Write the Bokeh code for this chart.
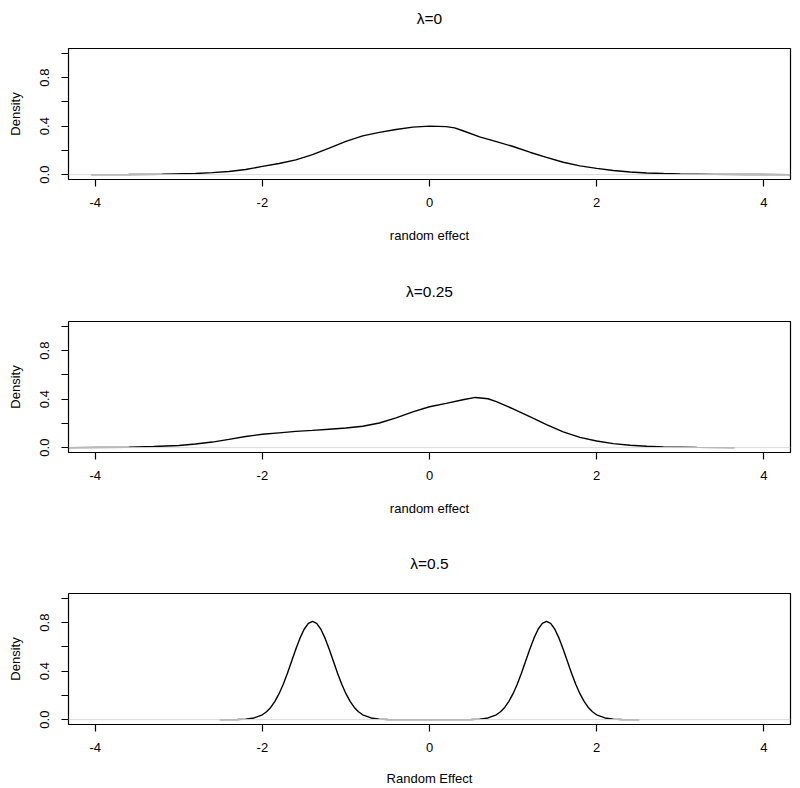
from bokeh.plotting import figure
from bokeh.layouts import column
from bokeh.models import Range1d, FixedTicker, Span, PrintfTickFormatter, LinearAxis
from bokeh.embed import file_html
from bokeh.resources import INLINE

# ---- data ----
titles = ["λ=0", "λ=0.25", "λ=0.5"]
xlabels = ["random effect", "random effect", "Random Effect"]
ylabel = "Density"

x_ticks = [-4, -2, 0, 2, 4]
y_major = [0.0, 0.4, 0.8]
y_minor = [0.2, 0.6, 1.0]

# lambda = 0
x_l0 = [-4.05, -3.6, -3.2, -2.8, -2.6, -2.4, -2.2, -2.0, -1.8, -1.6, -1.4, -1.2, -1.0,
        -0.8, -0.6, -0.4, -0.2, 0.0, 0.2, 0.3, 0.4, 0.6, 0.8, 1.0, 1.2, 1.4, 1.6, 1.8,
        2.0, 2.2, 2.4, 2.6, 2.8, 3.0, 3.4, 3.8, 4.4]
y_l0 = [0.0, 0.001, 0.003, 0.010, 0.017, 0.026, 0.042, 0.068, 0.092, 0.122, 0.165, 0.218, 0.275,
        0.320, 0.349, 0.372, 0.392, 0.400, 0.396, 0.386, 0.362, 0.312, 0.272, 0.232, 0.185, 0.142, 0.102, 0.072,
        0.052, 0.034, 0.022, 0.014, 0.009, 0.005, 0.002, 0.001, 0.0]

# lambda = 0.25
x_l25 = [-4.4, -3.6, -3.3, -3.0, -2.8, -2.6, -2.4, -2.2, -2.0, -1.8, -1.6, -1.4, -1.2, -1.0,
         -0.8, -0.6, -0.4, -0.2, 0.0, 0.2, 0.4, 0.55, 0.7, 0.8, 1.0, 1.2, 1.4, 1.6, 1.8,
         2.0, 2.2, 2.4, 2.6, 2.8, 3.2, 3.65]
y_l25 = [0.0, 0.003, 0.009, 0.018, 0.030, 0.046, 0.068, 0.092, 0.110, 0.122, 0.134, 0.142, 0.152, 0.162,
         0.176, 0.203, 0.245, 0.295, 0.337, 0.365, 0.395, 0.414, 0.403, 0.380, 0.320, 0.255, 0.190, 0.130, 0.085,
         0.055, 0.033, 0.020, 0.011, 0.006, 0.002, 0.0]

# lambda = 0.5
x_l50 = [-2.51, -2.4, -2.3, -2.2, -2.1, -2.0, -1.95, -1.9, -1.85, -1.8, -1.75, -1.7, -1.65, -1.6,
         -1.55, -1.5, -1.45, -1.4, -1.35, -1.3, -1.25, -1.2, -1.15, -1.1, -1.05, -1.0, -0.95,
         -0.9, -0.85, -0.8, -0.7, -0.6, -0.5, -0.4, 0.0,
         0.4, 0.5, 0.6, 0.7, 0.8, 0.85, 0.9, 0.95, 1.0, 1.05, 1.1, 1.15, 1.2, 1.25, 1.3, 1.35,
         1.4, 1.45, 1.5, 1.55, 1.6, 1.65, 1.7, 1.75, 1.8, 1.85, 1.9, 1.95, 2.0, 2.1, 2.2, 2.3, 2.4, 2.51]
y_l50 = [0.0, 0.0003, 0.001, 0.004, 0.014, 0.040, 0.065, 0.101, 0.150, 0.214, 0.292, 0.383, 0.481, 0.581,
         0.672, 0.745, 0.793, 0.810, 0.793, 0.745, 0.672, 0.581, 0.481, 0.383, 0.292, 0.214, 0.150,
         0.101, 0.065, 0.040, 0.014, 0.004, 0.001, 0.0003, 0.0,
         0.0003, 0.001, 0.004, 0.014, 0.040, 0.065, 0.101, 0.150, 0.214, 0.292, 0.383, 0.481, 0.581, 0.672, 0.745, 0.793,
         0.810, 0.793, 0.745, 0.672, 0.581, 0.481, 0.383, 0.292, 0.214, 0.150, 0.101, 0.065, 0.040, 0.014, 0.004, 0.001, 0.0003, 0.0]

series = [(x_l0, y_l0), (x_l25, y_l25), (x_l50, y_l50)]

FONT = "Liberation Sans"
# per-panel borders (top, bottom)
borders = [(48, 84), (58, 80), (61, 64)]
xlabel_standoff = [18, 18, 16]


def make_panel(i):
    top, bottom = borders[i]
    p = figure(frame_width=722, frame_height=131, title=None,
               min_border_left=68, min_border_right=10,
               min_border_top=top, min_border_bottom=bottom,
               x_range=Range1d(-4.32, 4.32), y_range=Range1d(-0.04, 1.04),
               output_backend="svg", toolbar_location=None,
               background_fill_color="white", border_fill_color="white")
    p.grid.visible = False
    p.outline_line_color = "black"
    p.outline_line_width = 1.2
    p.outline_line_alpha = 1.0

    xa = p.below[0]
    xa.ticker = FixedTicker(ticks=x_ticks)
    xa.formatter = PrintfTickFormatter(format="%d")
    xa.axis_line_color = None
    xa.major_tick_in = 0
    xa.major_tick_out = 7
    xa.major_tick_line_color = "black"
    xa.major_tick_line_width = 1.2
    xa.minor_tick_line_color = None
    xa.major_label_text_font = FONT
    xa.major_label_text_font_size = "13px"
    xa.major_label_text_color = "black"
    xa.major_label_standoff = 11
    xa.axis_label = xlabels[i]
    xa.axis_label_text_font = FONT
    xa.axis_label_text_font_size = "13px"
    xa.axis_label_text_font_style = "normal"
    xa.axis_label_text_color = "black"
    xa.axis_label_standoff = xlabel_standoff[i]

    ya = p.left[0]
    ya.ticker = FixedTicker(ticks=y_major, minor_ticks=y_minor)
    ya.formatter = PrintfTickFormatter(format="%.1f")
    ya.axis_line_color = None
    ya.major_tick_in = 0
    ya.major_tick_out = 7
    ya.minor_tick_in = 0
    ya.minor_tick_out = 7
    ya.major_tick_line_color = "black"
    ya.minor_tick_line_color = "black"
    ya.major_tick_line_width = 1.2
    ya.minor_tick_line_width = 1.2
    ya.major_label_orientation = "vertical"
    ya.major_label_text_font = FONT
    ya.major_label_text_font_size = "13px"
    ya.major_label_text_color = "black"
    ya.major_label_standoff = 12
    ya.axis_label = ylabel
    ya.axis_label_text_font = FONT
    ya.axis_label_text_font_size = "13px"
    ya.axis_label_text_font_style = "normal"
    ya.axis_label_text_color = "black"
    ya.axis_label_standoff = 15

    # title drawn as the label of an empty axis above the frame
    ta = LinearAxis(ticker=FixedTicker(ticks=[]), axis_label=titles[i])
    ta.axis_line_color = None
    ta.major_tick_line_color = None
    ta.minor_tick_line_color = None
    ta.major_tick_out = 0
    ta.major_tick_in = 0
    ta.minor_tick_out = 0
    ta.minor_tick_in = 0
    ta.major_label_standoff = 0
    ta.major_label_text_font_size = "1px"
    ta.axis_label_standoff = 22
    ta.axis_label_text_font = FONT
    ta.axis_label_text_font_size = "15.5px"
    ta.axis_label_text_font_style = "normal"
    ta.axis_label_text_color = "black"
    p.add_layout(ta, "above")

    p.add_layout(Span(location=0, dimension="width", line_color="#d9d9d9", line_width=1))
    xs, ys = series[i]
    p.line(xs, ys, line_color="black", line_width=1.4)
    return p


panels = [make_panel(i) for i in range(3)]
layout = column(*panels, spacing=0)

open("out.html", "w").write(file_html(layout, INLINE))
